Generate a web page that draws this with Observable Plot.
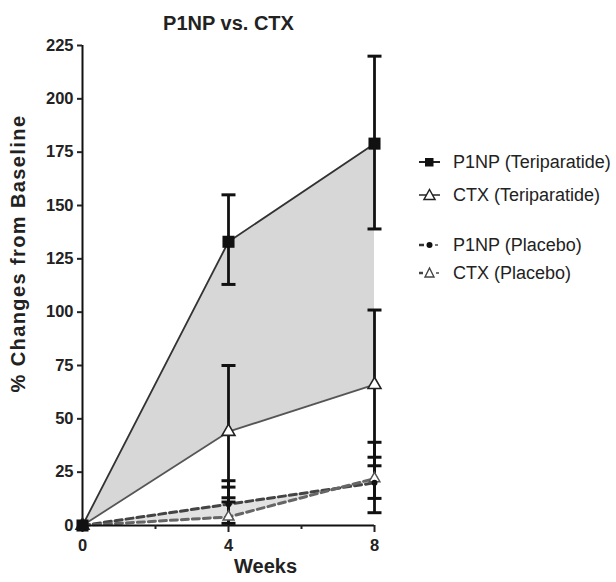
<!DOCTYPE html>
<html>
<head>
<meta charset="utf-8">
<script src="https://cdn.jsdelivr.net/npm/d3@7"></script>
<script src="https://cdn.jsdelivr.net/npm/@observablehq/plot@0.6"></script>
<style>
  html, body { margin: 0; padding: 0; background: #fff; }
  #wrap { position: relative; width: 616px; height: 582px; font-family: "Liberation Sans", Arial, sans-serif; }
  #legend { position: absolute; left: 418px; top: 150px; font-size: 18px; color: #222; }
  .item { position: absolute; left: 0; white-space: nowrap; display: flex; align-items: center; line-height: 20px; }
  .item svg { margin-right: 12px; }
</style>
</head>
<body>
<div id="wrap">
  <div id="chart"></div>
  <div id="legend"></div>
</div>
<script>
// ---- data ----
const weeks = [0, 4, 8];
const p1npTeri   = [0, 133, 179];
const p1npTeriLo = [0, 113, 139];
const p1npTeriHi = [0, 155, 220];
const ctxTeri    = [0, 44, 66];
const ctxTeriLo  = [0, 11, 28];
const ctxTeriHi  = [0, 75, 101];
const p1npPlac   = [0, 10, 20];
const p1npPlacLo = [0, 1, 6];
const p1npPlacHi = [0, 21, 32];
const ctxPlac    = [0, 4, 22];
const ctxPlacLo  = [0, 0, 12.7];
const ctxPlacHi  = [0, 18, 39];
const extraCaps4 = [13];
const yTicks = [0, 25, 50, 75, 100, 125, 150, 175, 200, 225];
const xTicks = [0, 4, 8];
const xMinorTicks = [2, 6];
const seriesNames = ["P1NP (Teriparatide)", "CTX (Teriparatide)", "P1NP (Placebo)", "CTX (Placebo)"];
const titleText = "P1NP vs. CTX";
const yLabel = "% Changes from Baseline";
const xLabel = "Weeks";

// ---- tables ----
const teri = weeks.map((w, i) => ({w, p: p1npTeri[i], c: ctxTeri[i]}));
const plac = weeks.map((w, i) => ({w, p: p1npPlac[i], c: ctxPlac[i]}));
const errs = [];
weeks.forEach((w, i) => {
  if (w === 0) return;
  errs.push({w, lo: p1npTeriLo[i], hi: p1npTeriHi[i]});
  errs.push({w, lo: ctxTeriLo[i], hi: ctxTeriHi[i]});
  errs.push({w, lo: p1npPlacLo[i], hi: p1npPlacHi[i]});
  errs.push({w, lo: ctxPlacLo[i], hi: ctxPlacHi[i]});
});
const caps = [];
errs.forEach(e => { caps.push({w: e.w, y: e.lo}); caps.push({w: e.w, y: e.hi}); });
extraCaps4.forEach(v => caps.push({w: 4, y: v}));
const capsShown = caps.filter(c => c.y > 0);

const capSymbol = {
  draw(context, size) {
    const r = Math.sqrt(size / Math.PI);
    context.moveTo(-r, 0);
    context.lineTo(r, 0);
  }
};

const chart = Plot.plot({
  width: 616,
  height: 582,
  marginLeft: 82,
  marginRight: 242,
  marginTop: 45,
  marginBottom: 57,
  style: {fontFamily: "Liberation Sans, Arial, sans-serif", fontSize: "16px", fontWeight: "bold", color: "#222", background: "#fff"},
  x: {domain: [0, 8], axis: null},
  y: {domain: [0, 225], axis: null},
  marks: [
    Plot.areaY(teri, {x: "w", y1: "c", y2: "p", fill: "#d7d7d7"}),
    Plot.areaY(plac, {x: "w", y1: "c", y2: "p", fill: "#e2e2e2"}),
    Plot.line(teri, {x: "w", y: "p", stroke: "#333", strokeWidth: 1.8}),
    Plot.line(teri, {x: "w", y: "c", stroke: "#555", strokeWidth: 1.8}),
    Plot.line(plac, {x: "w", y: "p", stroke: "#444", strokeWidth: 3, strokeDasharray: "7,4"}),
    Plot.line(plac, {x: "w", y: "c", stroke: "#666", strokeWidth: 3, strokeDasharray: "7,4"}),
    // axes
    Plot.ruleX([0], {y1: 0, y2: 225, stroke: "#111", strokeWidth: 2}),
    Plot.ruleY([0], {x1: 0, x2: 8, stroke: "#111", strokeWidth: 2}),
    Plot.axisY(yTicks, {anchor: "left", tickSize: 5, tickPadding: 4, strokeWidth: 2, fontSize: 16.5, label: null}),
    Plot.axisX(xTicks, {anchor: "bottom", tickSize: 7, tickPadding: 7, strokeWidth: 2, fontSize: 16.5, label: null}),
    Plot.axisX(xMinorTicks, {anchor: "bottom", tickSize: 4, strokeWidth: 2, tickFormat: () => "", label: null}),
    // error bars
    Plot.ruleX(errs, {x: "w", y1: "lo", y2: "hi", stroke: "#111", strokeWidth: 2.8}),
    Plot.dot(capsShown, {x: "w", y: "y", symbol: capSymbol, r: 7, stroke: "#111", strokeWidth: 3}),
    // markers
    Plot.dot(plac, {x: "w", y: "c", symbol: "triangle", r: 4, fill: "#fff", stroke: "#555", strokeWidth: 1.5}),
    Plot.dot(plac, {x: "w", y: "p", symbol: "circle", r: 3, fill: "#111", stroke: "none"}),
    Plot.dot(teri, {x: "w", y: "c", symbol: "triangle", r: 4.8, fill: "#fff", stroke: "#222", strokeWidth: 1.6}),
    Plot.dot(teri, {x: "w", y: "p", symbol: "square", r: 6.8, fill: "#111", stroke: "none"}),
    // text
    Plot.text([titleText], {frameAnchor: "top", dy: -30, text: d => d, fontSize: 20, fontWeight: "bold", fill: "#222"}),
    Plot.text([yLabel], {frameAnchor: "left", textAnchor: "middle", dx: -64, dy: -32, rotate: -90, text: d => d, fontSize: 20, fontWeight: "bold", fill: "#222"}),
    Plot.text([xLabel], {frameAnchor: "bottom", dx: 37, dy: 47, text: d => d, fontSize: 20, fontWeight: "bold", fill: "#222"})
  ]
});
// letter spacing on the rotated y label
d3.select(chart).selectAll("text").filter(function() { return this.textContent === yLabel; }).style("letter-spacing", "1.4px");
document.getElementById("chart").appendChild(chart);

// ---- legend ----
const legendTops = [2, 35, 85, 113];
const symbols = [
  `<line x1="1" y1="8" x2="22" y2="8" stroke="#222" stroke-width="2"/><rect x="7" y="4" width="8.5" height="8.5" fill="#111"/>`,
  `<line x1="1" y1="8" x2="22" y2="8" stroke="#333" stroke-width="1.6"/><path d="M11.5,2.5 L17,12.5 L6,12.5 Z" fill="#fff" stroke="#222" stroke-width="1.5"/>`,
  `<line x1="1" y1="8" x2="6" y2="8" stroke="#333" stroke-width="2.5"/><line x1="17" y1="8" x2="20" y2="8" stroke="#777" stroke-width="2"/><circle cx="11.5" cy="8" r="3" fill="#111"/>`,
  `<line x1="1" y1="8" x2="5" y2="8" stroke="#444" stroke-width="2.5"/><line x1="18" y1="8" x2="21" y2="8" stroke="#777" stroke-width="2"/><path d="M11.5,3 L16,12 L7,12 Z" fill="#fff" stroke="#444" stroke-width="1.4"/>`
];
const legend = document.getElementById("legend");
seriesNames.forEach((name, i) => {
  const div = document.createElement("div");
  div.className = "item";
  div.style.top = legendTops[i] + "px";
  div.innerHTML = `<svg width="23" height="16">${symbols[i]}</svg><span>${name}</span>`;
  legend.appendChild(div);
});
</script>
</body>
</html>
